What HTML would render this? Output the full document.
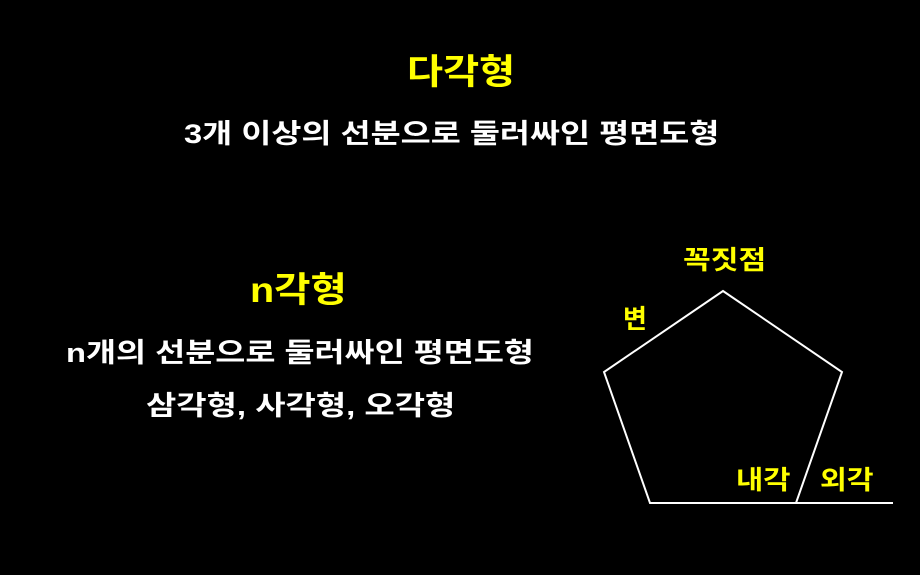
<!DOCTYPE html>
<html><head><meta charset="utf-8"><style>
html,body{margin:0;padding:0;background:#000;}
body{width:920px;height:575px;position:relative;overflow:hidden;font-family:"Liberation Sans","Noto Sans CJK KR","NanumGothic",sans-serif;font-weight:bold;}
.t{position:absolute;white-space:nowrap;line-height:1;transform-origin:0 0;}
.y{color:#ffff00;}
.w{color:#fff;}
</style></head><body>
<div class="t y" style="left:407px;top:55px;font-size:35px;transform:scaleX(1.12)">다각형</div>
<div class="t w" style="left:184px;top:121px;font-size:27px;transform:scaleX(1.21)">3개 이상의 선분으로 둘러싸인 평면도형</div>
<div class="t y" style="left:250px;top:273px;font-size:35px;transform:scaleX(1.13)">n각형</div>
<div class="t w" style="left:66px;top:340px;font-size:27px;transform:scaleX(1.21)">n개의 선분으로 둘러싸인 평면도형</div>
<div class="t w" style="left:146px;top:393px;font-size:27px;transform:scaleX(1.22)">삼각형, 사각형, 오각형</div>
<div class="t y" style="left:683px;top:247px;font-size:26px;transform:scaleX(1.16)">꼭짓점</div>
<div class="t y" style="left:623px;top:306px;font-size:26px;">변</div>
<div class="t y" style="left:736px;top:467px;font-size:26px;transform:scaleX(1.14)">내각</div>
<div class="t y" style="left:820px;top:467px;font-size:26px;transform:scaleX(1.12)">외각</div>
<svg width="920" height="575" style="position:absolute;left:0;top:0">
<polygon points="723,291 842,372 796,503 650,503 604,372" fill="none" stroke="#fff" stroke-width="2"/>
<line x1="796" y1="503" x2="893" y2="503" stroke="#fff" stroke-width="2"/>
</svg>
</body></html>
